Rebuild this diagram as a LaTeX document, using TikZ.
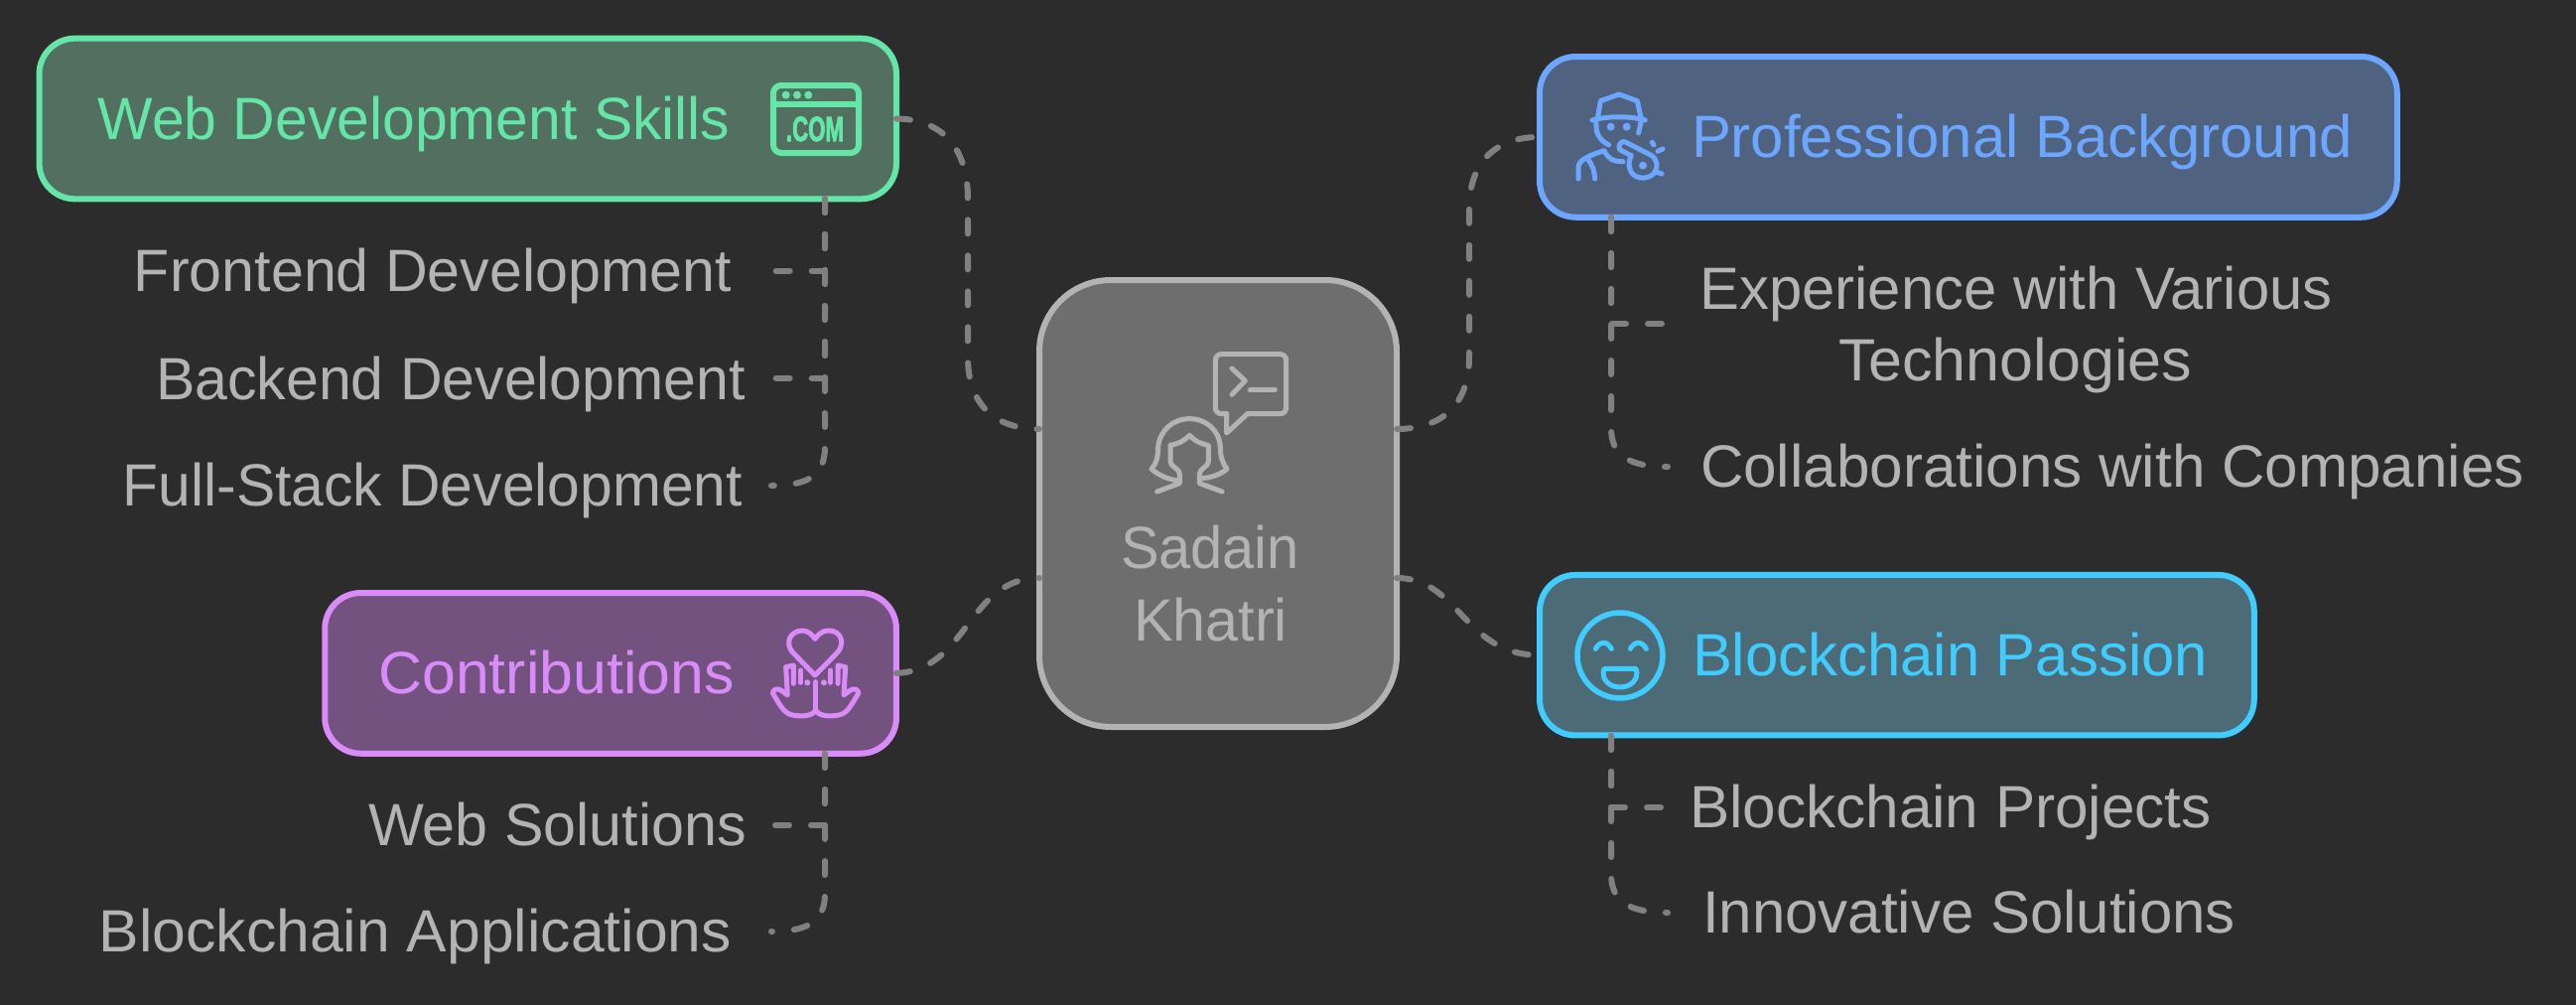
\documentclass[tikz,border=0pt]{standalone}
\usepackage{fontspec}
\usepackage{graphicx}
\setmainfont{Liberation Sans}
\newfontfamily\comfont[FakeBold=3]{Liberation Sans Bold}
\newcommand{\fitw}[2]{\resizebox{#1pt}{\height}{#2}}
\definecolor{bgc}{HTML}{2C2C2C}
\definecolor{conn}{HTML}{808080}
\definecolor{txt}{HTML}{B3B3B3}
\definecolor{gs}{HTML}{64E6A8}\definecolor{gf}{HTML}{536F60}
\definecolor{bs}{HTML}{6CA6FF}\definecolor{bf}{HTML}{4F627F}
\definecolor{ps}{HTML}{D98CF8}\definecolor{pf}{HTML}{745280}
\definecolor{cs}{HTML}{40CCFF}\definecolor{cf}{HTML}{4C6B76}
\definecolor{ms}{HTML}{B3B3B3}\definecolor{mf}{HTML}{6E6E6E}
\tikzset{
  box/.style={draw,line width=6pt,rounded corners=36pt,inner sep=0pt,outer sep=0pt},
  lbl/.style={font=\fontsize{60}{72}\selectfont,inner sep=0pt,outer sep=0pt,anchor=base},
  link/.style={draw=conn,line width=6pt,line cap=round,line join=round,dash pattern=on 14pt off 22pt},
  icon/.style={line width=5pt,line cap=round,line join=round},
  zoomat/.style 2 args={shift={(#1,#2)},x=0.33333pt,y=-0.33333pt},
}
\begin{document}
\begin{tikzpicture}[x=1pt,y=-1pt]
\useasboundingbox[fill=bgc] (0,0) rectangle (2595,1012);
% boxes
\node[box,draw=gs,fill=gf,minimum width=863.5pt,minimum height=161.7pt] (web) at (471.25,119.5) {};
\node[box,draw=ps,fill=pf,minimum width=575.7pt,minimum height=161.7pt] (contrib) at (615.1,677.9) {};
\node[box,draw=bs,fill=bf,minimum width=863.7pt,minimum height=161.7pt] (prof) at (1982.9,137.9) {};
\node[box,draw=cs,fill=cf,minimum width=719.7pt,minimum height=161.5pt] (chain) at (1910.9,659.7) {};
\node[box,draw=ms,fill=mf,rounded corners=72pt,minimum width=360pt,minimum height=450pt] (center) at (1227,507) {};
% ports and free ends
\coordinate (cl1) at (1047,432);\coordinate (cl2) at (1047,582);
\coordinate (cr1) at (1407,432);\coordinate (cr2) at (1407,582);
\coordinate (wd) at (831,200);\coordinate (cd) at (831,759);
\coordinate (pd) at (1623,219);\coordinate (bd) at (1623,741);
\coordinate (e1) at (777,272.7);\coordinate (e2) at (777,380.7);\coordinate (e3) at (777,489);
\coordinate (e4) at (777,831);\coordinate (e5) at (777,938);
\coordinate (e6) at (1680,326);\coordinate (e7) at (1680,470);
\coordinate (e8) at (1680,813);\coordinate (e9) at (1680,919);
% main connectors
\draw[link] (web.east) .. controls (950,120) and (975,150) .. (975,200) -- (975,360) .. controls (975,405) and (1000,432) .. (cl1);
\draw[link] (contrib.east) .. controls (975,675) and (975,582) .. (cl2);
\draw[link] (cr1) .. controls (1455,432) and (1480,405) .. (1480,360) -- (1480,210) .. controls (1480,165) and (1505,138) .. (prof.west);
\draw[link] (cr2) .. controls (1470,582) and (1475,660) .. (chain.west);
% child connectors
\draw[link] (wd) |- (e1);
\draw[link] (wd) |- (e2);
\draw[link] (wd) -- (831,450) .. controls (831,478) and (815,489) .. (e3);
\draw[link] (cd) |- (e4);
\draw[link] (cd) -- (831,900) .. controls (831,927) and (815,938) .. (e5);
\draw[link] (pd) |- (e6);
\draw[link] (pd) -- (1623,431) .. controls (1623,458) and (1640,470) .. (e7);
\draw[link] (bd) |- (e8);
\draw[link] (bd) -- (1623,880) .. controls (1623,907) and (1640,919) .. (e9);
% texts
\node[lbl,text=gs,anchor=base west] (t1) at (98.5,140.5) {\fitw{637}{Web Development Skills}};
\node[lbl,text=txt,anchor=base east] (t2) at (737,293) {\fitw{602}{Frontend Development}};
\node[lbl,text=txt,anchor=base east] (t3) at (751,402) {\fitw{594}{Backend Development}};
\node[lbl,text=txt,anchor=base east] (t4) at (748,509) {\fitw{624}{Full-Stack Development}};
\node[lbl,text=ps,anchor=base west] (t5) at (381.5,698) {\fitw{358}{Contributions}};
\node[lbl,text=txt,anchor=base east] (t6) at (752,851.5) {\fitw{381}{Web Solutions}};
\node[lbl,text=txt,anchor=base east] (t7) at (737,958.5) {\fitw{637}{Blockchain Applications}};
\node[lbl,text=bs,anchor=base west] (t8) at (1704,158) {\fitw{666}{Professional Background}};
\node[lbl,text=txt] (t9) at (2031,311.5) {\fitw{637}{Experience with Various}};
\node[lbl,text=txt] (t10) at (2030,383.5) {\fitw{356}{Technologies}};
\node[lbl,text=txt,anchor=base west] (t11) at (1713,490.5) {\fitw{830}{Collaborations with Companies}};
\node[lbl,text=cs,anchor=base west] (t12) at (1705,680.5) {\fitw{519}{Blockchain Passion}};
\node[lbl,text=txt,anchor=base west] (t13) at (1702,833.5) {\fitw{526}{Blockchain Projects}};
\node[lbl,text=txt,anchor=base west] (t14) at (1715,939.5) {\fitw{537}{Innovative Solutions}};
\node[lbl,text=txt] (t15) at (1219,572.7) {\fitw{180}{Sadain}};
\node[lbl,text=txt] (t16) at (1219.5,645) {\fitw{155}{Khatri}};
% .COM icon
\draw[icon,line width=6pt,draw=gs,rounded corners=8pt] (779,86) rectangle (865,154);
\draw[icon,line width=6pt,draw=gs] (779,105) -- (865,105);
\fill[gs] (791.7,95.7) circle (4pt) (803,95.7) circle (4pt) (814.3,95.7) circle (4pt);
\node[inner sep=0pt,outer sep=0pt,anchor=base,text=gs] (comt) at (821,142) {\fitw{58}{\fontsize{35}{35}\comfont .COM}};
% person and bubble icon
\begin{scope}[zoomat={1130}{340},draw=ms,icon]
\draw[rounded corners=6pt] (317,230) -- (283,230) -- (283,50) -- (497,50) -- (497,230) -- (380,230);
\draw (380,230) -- (317,288) -- (317,230);
\draw (333,93) -- (373,130) -- (333,172);
\draw (388,158) -- (463,158);
\draw (170,432) .. controls (140,428) and (110,415) .. (90,397) .. controls (105,380) and (110,360) .. (110,330) .. controls (115,280) and (155,245) .. (205,245) .. controls (255,245) and (295,280) .. (298,330) .. controls (298,360) and (305,380) .. (318,397) .. controls (295,415) and (265,425) .. (235,425);
\draw (147,325) .. controls (175,320) and (190,310) .. (205,295) .. controls (218,310) and (235,320) .. (262,325) -- (262,375) .. controls (262,390) and (235,395) .. (235,412) -- (235,440) -- (303,465);
\draw (147,325) -- (147,375) .. controls (147,390) and (175,395) .. (175,412) -- (175,440) -- (107,465);
\end{scope}
% whistle person icon
\begin{scope}[zoomat={1580}{60},draw=bs,icon]
\draw (88,180) -- (97,125) -- (153,105) -- (208,125) -- (220,180);
\draw (72,183) .. controls (120,170) and (185,170) .. (232,183);
\draw (83,185) -- (85,215) .. controls (90,235) and (105,250) .. (122,258);
\draw (220,185) -- (212,222);
\fill[bs] (128,203) circle (4pt) (176,203) circle (4pt);
\draw (30,360) -- (30,325) .. controls (30,305) and (60,290) .. (108,275) .. controls (120,300) and (135,308) .. (165,308);
\draw (80,360) .. controls (78,330) and (70,315) .. (58,300);
\draw (190,290) -- (155,272) .. controls (148,262) and (158,245) .. (170,248) -- (248,288) .. controls (270,300) and (270,325) .. (262,338) .. controls (250,362) and (205,365) .. (190,340) .. controls (180,325) and (182,305) .. (190,290);
\fill[bs] (225,320) circle (4pt);
\draw (265,340) -- (282,345);
\draw (253,250) -- (258,258);
\draw (270,277) -- (285,270);
\end{scope}
% smiley icon
\begin{scope}[zoomat={1540}{570},draw=cs,icon]
\node[draw=cs,line width=5.5pt,circle,minimum size=86pt,inner sep=0pt,outer sep=0pt] (smile) at (276,270) {};
\draw (202,250) .. controls (215,226) and (238,226) .. (250,250);
\draw (307,250) .. controls (320,226) and (343,226) .. (355,250);
\draw (228,310) -- (324,310) .. controls (335,340) and (310,366) .. (276,366) .. controls (242,366) and (217,340) .. (228,310) -- cycle;
\end{scope}
% heart and hands icon
\begin{scope}[zoomat={740}{600},draw=ps,icon]
\draw (243,240) -- (175,170) .. controls (150,140) and (170,105) .. (205,105) .. controls (225,105) and (235,120) .. (243,130) .. controls (250,120) and (262,105) .. (285,105) .. controls (320,105) and (335,140) .. (312,170) -- cycle;
\draw (245,260) -- (245,345);
\draw (245,345) .. controls (235,365) and (200,365) .. (175,360) .. controls (150,355) and (140,335) .. (115,293) .. controls (125,270) and (140,285) .. (160,300) -- (155,215) -- (178,210) -- (178,265);
\draw (200,225) -- (200,262);
\draw (245,345) .. controls (255,365) and (290,365) .. (315,360) .. controls (340,355) and (350,335) .. (375,293) .. controls (365,270) and (350,285) .. (330,300) -- (335,215) -- (312,210) -- (312,265);
\draw (290,225) -- (290,262);
\fill[ps] (220,262) circle (3pt) (270,262) circle (3pt);
\end{scope}
\end{tikzpicture}
\end{document}
